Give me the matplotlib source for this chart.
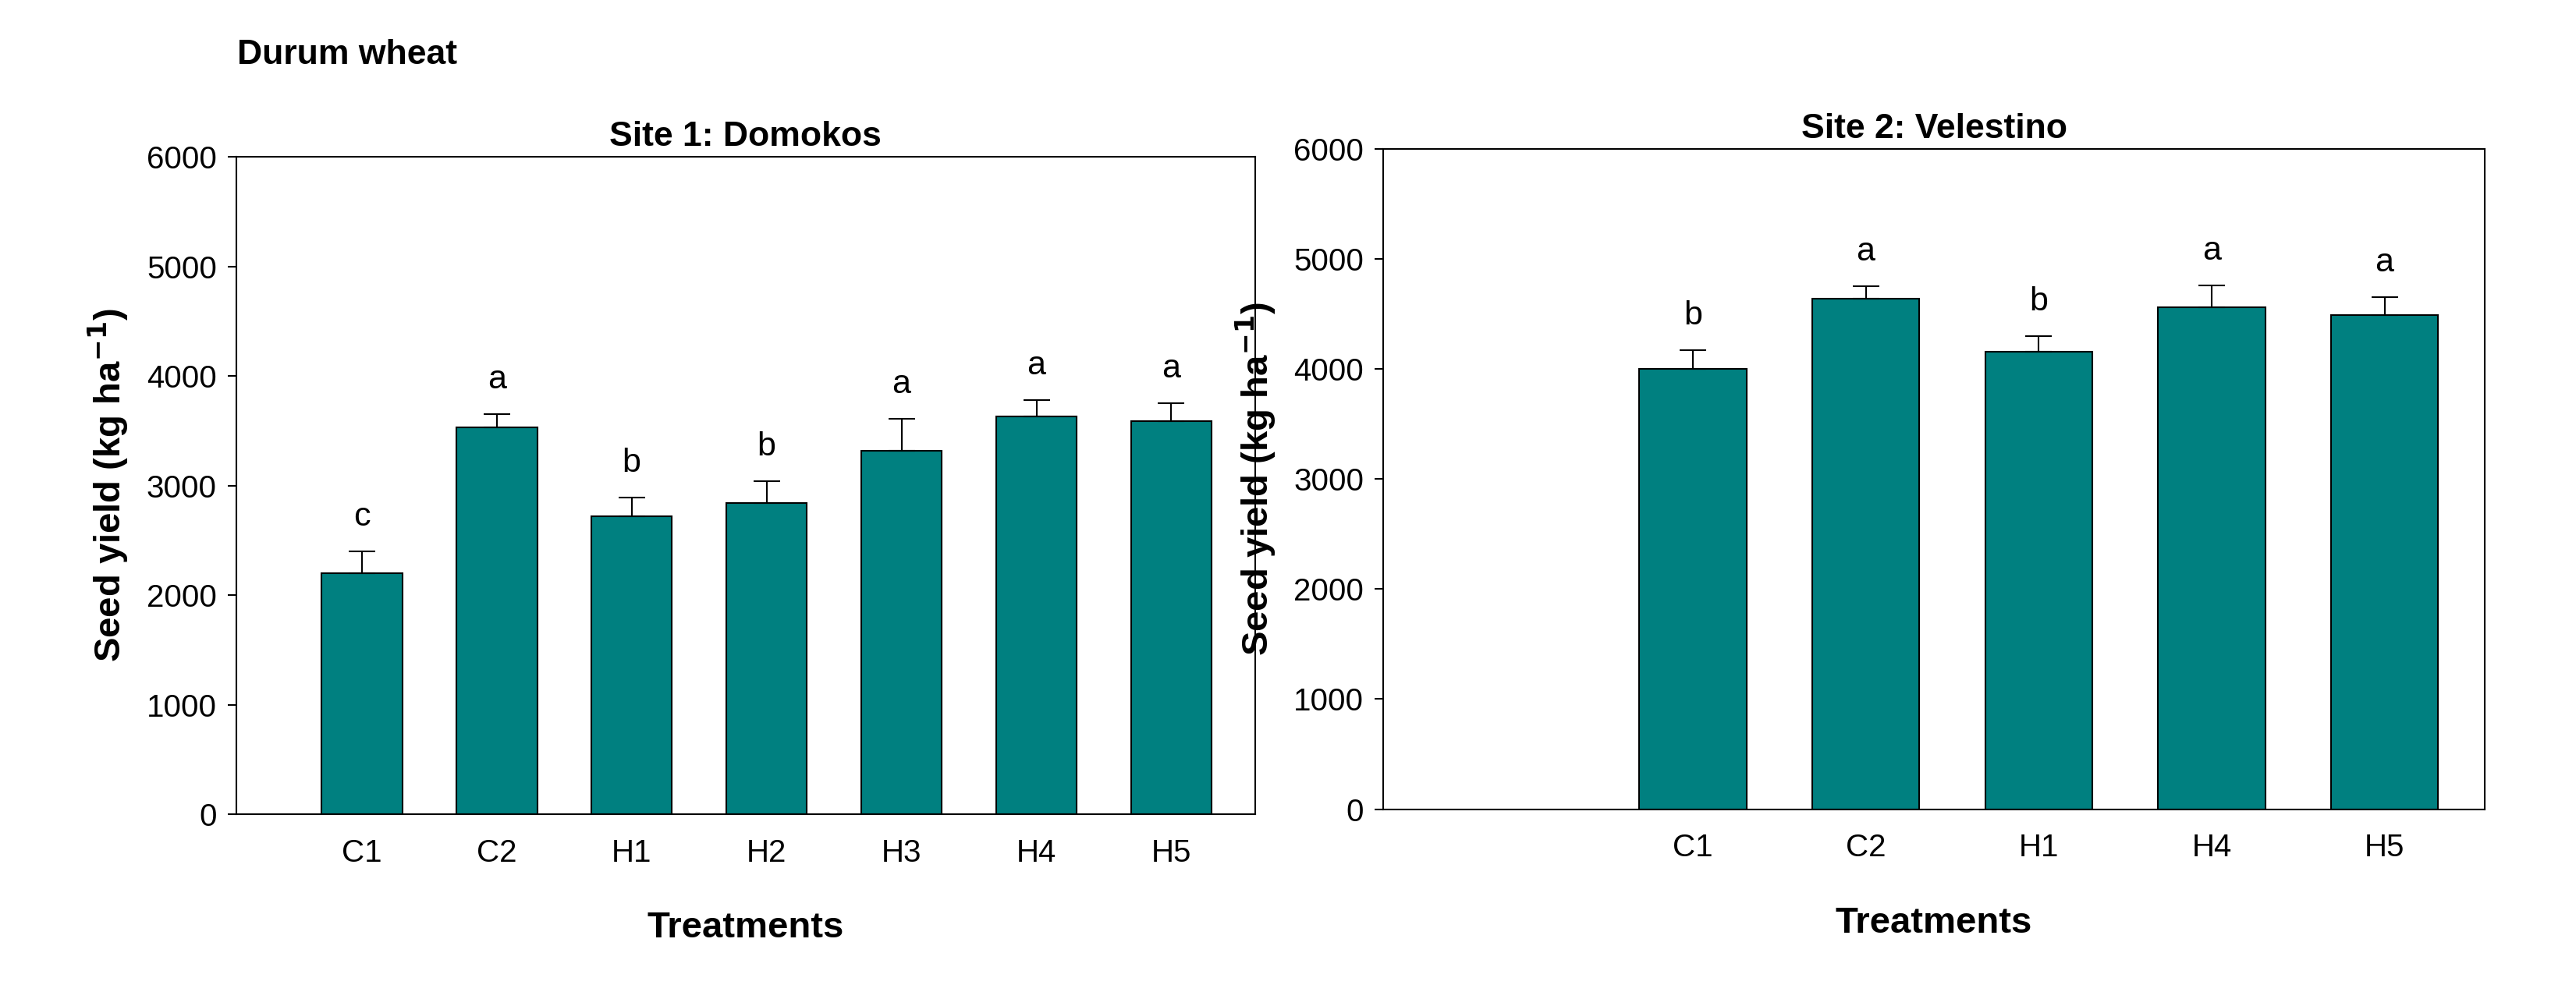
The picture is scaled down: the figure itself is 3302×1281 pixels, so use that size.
import matplotlib
matplotlib.use("Agg")
import matplotlib.pyplot as plt

plt.rcParams['font.family'] = ['Liberation Sans', 'DejaVu Sans']

site1_labels = ["C1", "C2", "H1", "H2", "H3", "H4", "H5"]
site1_yield = [2200, 3530, 2720, 2840, 3320, 3630, 3590]
site1_err = [200, 120, 170, 200, 290, 150, 160]
site1_letters = ["c", "a", "b", "b", "a", "a", "a"]

site2_labels = ["C1", "C2", "H1", "H4", "H5"]
site2_yield = [4000, 4640, 4160, 4560, 4490]
site2_err = [170, 110, 140, 200, 160]
site2_letters = ["b", "a", "b", "a", "a"]

teal = "#008080"
fig = plt.figure(figsize=(33.02, 12.81), dpi=100)

def panel(rect, labels, vals, errs, letters, title, xlim, width):
    ax = fig.add_axes(rect)
    x = list(range(len(labels)))
    ax.bar(x, vals, width=width, color=teal, edgecolor="black", linewidth=1.5)
    ax.errorbar(x, vals, yerr=[[0]*len(errs), errs], fmt="none", ecolor="black",
                capsize=12, elinewidth=1.5, capthick=1.5)
    for xi, v, e, l in zip(x, vals, errs, letters):
        ax.text(xi, v + e + 170, l, ha="center", va="bottom", fontsize=31)
    ax.set_xlim(*xlim)
    ax.set_ylim(0, 6000)
    ax.set_xticks(x)
    ax.set_xticklabels(labels)
    ax.tick_params(direction="out", labelsize=29, length=8, width=1.5, pad=10)
    ax.tick_params(axis="x", length=0, pad=22)
    for s in ax.spines.values():
        s.set_linewidth(1.5)
    ax.set_title(title, fontsize=32, fontweight="bold", pad=10)
    ax.set_xlabel("Treatments", fontsize=34, fontweight="bold", labelpad=40)
    ax.set_ylabel("Seed yield (kg ha$^{\\mathbf{-1}}$)", fontsize=34, fontweight="bold", labelpad=14)
    return ax

panel([0.0917, 0.185, 0.3955, 0.658], site1_labels, site1_yield, site1_err,
      site1_letters, "Site 1: Domokos", (-0.93, 6.62), 0.6)
panel([0.537, 0.19, 0.4276, 0.661], site2_labels, site2_yield, site2_err,
      site2_letters, "Site 2: Velestino", (-1.79, 4.58), 0.62)

fig.text(0.092, 0.945, "Durum wheat", fontsize=32, fontweight="bold", va="center")
fig.savefig("out.png", dpi=100)
